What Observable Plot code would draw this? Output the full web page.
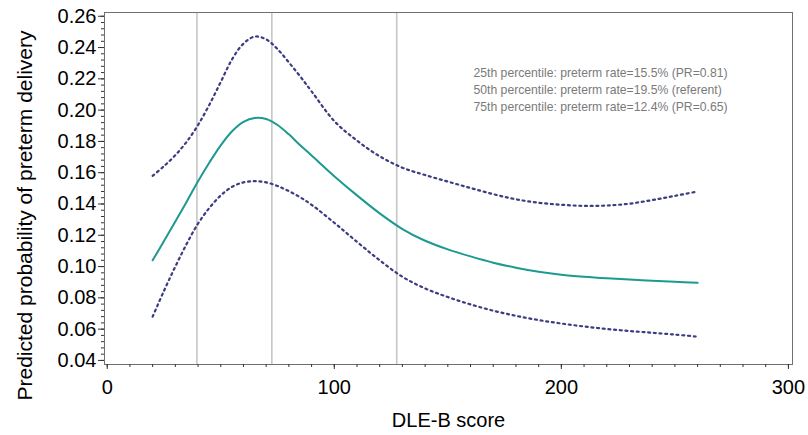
<!DOCTYPE html>
<html>
<head>
<meta charset="utf-8">
<script src="https://cdn.jsdelivr.net/npm/d3@7"></script>
<script src="https://cdn.jsdelivr.net/npm/@observablehq/plot@0.6"></script>
<style>
  html, body { margin: 0; padding: 0; background: #fff; }
</style>
</head>
<body>
<div id="chart"></div>
<script>
// DLE-B score sample points
const xs = [20, 25, 30, 35, 40, 45, 50, 55, 60, 65, 70, 75, 80, 85, 90, 100, 110, 120, 130, 140, 150, 160, 170, 180, 190, 200, 210, 220, 230, 240, 250, 260];
// Predicted probability (estimate)
const estimate = [0.104, 0.1163, 0.1288, 0.1415, 0.1545, 0.1665, 0.1775, 0.1865, 0.1925, 0.195, 0.1943, 0.1905, 0.1845, 0.1775, 0.171, 0.1578, 0.1455, 0.134, 0.124, 0.1165, 0.111, 0.1065, 0.1025, 0.0993, 0.0967, 0.0948, 0.0935, 0.0925, 0.0917, 0.091, 0.0903, 0.0896];
// Upper 95% confidence limit
const upper = [0.158, 0.1642, 0.1712, 0.1798, 0.1905, 0.2035, 0.218, 0.2325, 0.2425, 0.247, 0.2452, 0.239, 0.2305, 0.2215, 0.212, 0.193, 0.1805, 0.1705, 0.1632, 0.1585, 0.1543, 0.1502, 0.1463, 0.143, 0.1408, 0.1395, 0.1388, 0.139, 0.1402, 0.1425, 0.1452, 0.148];
// Lower 95% confidence limit
const lower = [0.068, 0.0845, 0.100, 0.1145, 0.1275, 0.1375, 0.1455, 0.151, 0.1538, 0.1546, 0.1538, 0.1515, 0.1482, 0.1443, 0.1395, 0.128, 0.1158, 0.104, 0.0935, 0.086, 0.0805, 0.0758, 0.0718, 0.0685, 0.0658, 0.0636, 0.0617, 0.0601, 0.0588, 0.0577, 0.0565, 0.0552];
// Percentile reference lines (25th, 50th, 75th)
const percentiles = [39.5, 72.5, 127.5];
// Tick labels
const xTicks = [0, 100, 200, 300];
const yTicks = [0.04, 0.06, 0.08, 0.10, 0.12, 0.14, 0.16, 0.18, 0.20, 0.22, 0.24, 0.26];
const annotations = [
  "25th percentile: preterm rate=15.5% (PR=0.81)",
  "50th percentile: preterm rate=19.5% (referent)",
  "75th percentile: preterm rate=12.4% (PR=0.65)"
];
const xLabel = "DLE-B score";
const yLabel = "Predicted probability of preterm delivery";

const toRows = (vals) => xs.map((x, i) => ({x, y: vals[i]}));
const xMinor = d3.range(0, 31).map(i => i * 10);
const yMinor = d3.range(10, 66).map(i => i * 0.004);

const chart = Plot.plot({
  width: 808,
  height: 435,
  marginLeft: 104,
  marginRight: 16,
  marginTop: 12,
  marginBottom: 71,
  style: {fontFamily: "'Liberation Sans', Arial, sans-serif", background: "#fff", color: "#000"},
  x: {domain: [-1.2, 301.8], label: null},
  y: {domain: [0.0374, 0.2624], label: null},
  marks: [
    Plot.ruleX(percentiles, {stroke: "#c6c6c6", strokeWidth: 1.6}),
    Plot.line(toRows(upper), {x: "x", y: "y", stroke: "#3c3c80", strokeWidth: 2.2, strokeDasharray: "2,3.7", curve: "catmull-rom"}),
    Plot.line(toRows(lower), {x: "x", y: "y", stroke: "#3c3c80", strokeWidth: 2.2, strokeDasharray: "2,3.7", curve: "catmull-rom"}),
    Plot.line(toRows(estimate), {x: "x", y: "y", stroke: "#1c9a8f", strokeWidth: 2, curve: "catmull-rom"}),
    Plot.frame({stroke: "#707070"}),
    Plot.axisX({ticks: xMinor, tickSize: 3, tickFormat: () => "", label: null, stroke: "#333"}),
    Plot.axisX({ticks: xTicks, tickSize: 5, tickPadding: 10, fontSize: 20, tickFormat: d3.format("d"), label: null, stroke: "#333"}),
    Plot.axisY({ticks: yMinor, tickSize: 3, tickFormat: () => "", label: null, stroke: "#333"}),
    Plot.axisY({ticks: yTicks, tickSize: 6, tickPadding: 2, fontSize: 20, tickFormat: d3.format(".2f"), label: null, stroke: "#333"}),
    Plot.text([yLabel], {frameAnchor: "left", rotate: -90, dx: -79, dy: 27, fontSize: 21, textAnchor: "middle", lineAnchor: "middle", fill: "#000"}),
    Plot.text([xLabel], {frameAnchor: "bottom", dy: 56, fontSize: 20, textAnchor: "middle", lineAnchor: "middle", fill: "#000"}),
    Plot.text([annotations.join("\n")], {frameAnchor: "top-left", dx: 369, dy: 52, fontSize: 12.2, lineHeight: 1.42, textAnchor: "start", lineAnchor: "top", fill: "#7a7a7a"})
  ]
});
document.getElementById("chart").appendChild(chart);
</script>
</body>
</html>
